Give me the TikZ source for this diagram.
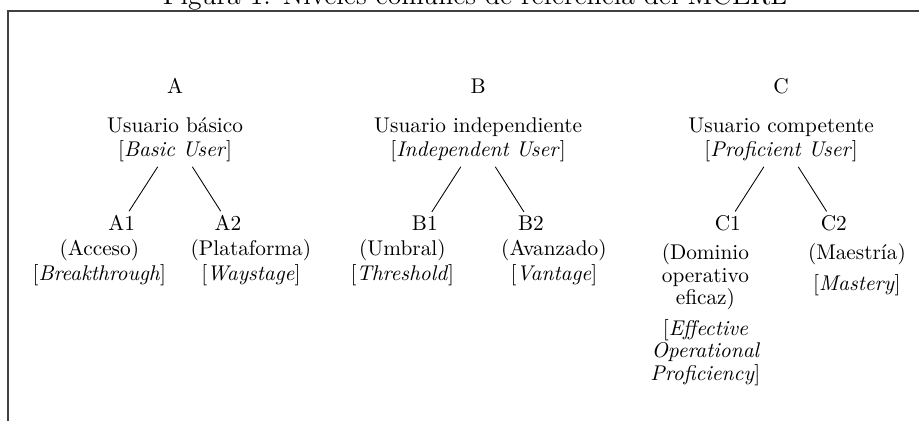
\documentclass[tikz,border=0pt]{standalone}
\usepackage{fontspec}
\begin{document}
\begin{tikzpicture}[
		grouplbl/.style={anchor=base, inner sep=0pt},
		usr/.style={anchor=base, align=center, inner sep=2pt, font=\fontsize{10}{11.5}\selectfont},
		lvl/.style={anchor=base, inner sep=1.5pt},
		desc/.style={anchor=base, align=center, inner sep=0pt, font=\fontsize{10}{11.5}\selectfont},
		descwide/.style={desc, text width=2.1cm, font=\fontsize{10}{10.5}\selectfont},
		boxline/.style={line width=0.8pt, black!75}
	]
		\useasboundingbox (0,0) rectangle (15.165,6.947);

		%caption and frame
		\node (title) at (7.84,6.865) [anchor=base, font=\fontsize{13}{15}\selectfont] {Figura 1: Niveles comunes de referencia del MCERL};
		\draw[boxline] (0.13,0) -- (0.13,6.77) -- (15.3,6.77);

		%A
		\node (lblA) at (2.89,5.40) [grouplbl] {A};
		\node (usrA) at (2.89,4.36) [usr] {Usuario básico\\{[}\textit{Basic User}{]}};
		\node (Aone) at (2.01,3.15) [lvl] {A1};
		\node (Atwo) at (3.76,3.15) [lvl] {A2};
		\draw (usrA) -- (Aone);
		\draw (usrA) -- (Atwo);
		\node (descAone) at (1.64,2.32) [desc] {(Acceso)\\{[}\textit{Breakthrough}{]}};
		\node (descAtwo) at (4.14,2.32) [desc] {(Plataforma)\\{[}\textit{Waystage}{]}};

		%B
		\node (lblB) at (7.89,5.40) [grouplbl] {B};
		\node (usrB) at (7.89,4.36) [usr] {Usuario independiente\\{[}\textit{Independent User}{]}};
		\node (Bone) at (7.01,3.15) [lvl] {B1};
		\node (Btwo) at (8.76,3.15) [lvl] {B2};
		\draw (usrB) -- (Bone);
		\draw (usrB) -- (Btwo);
		\node (descBone) at (6.64,2.32) [desc] {(Umbral)\\{[}\textit{Threshold}{]}};
		\node (descBtwo) at (9.14,2.32) [desc] {(Avanzado)\\{[}\textit{Vantage}{]}};

		%C
		\node (lblC) at (12.89,5.40) [grouplbl] {C};
		\node (usrC) at (12.89,4.36) [usr] {Usuario competente\\{[}\textit{Proficient User}{]}};
		\node (Cone) at (12.01,3.15) [lvl] {C1};
		\node (Ctwo) at (13.76,3.15) [lvl] {C2};
		\draw (usrC) -- (Cone);
		\draw (usrC) -- (Ctwo);
		\node (descCone) at (11.64,2.66) [descwide] {(Dominio operativo eficaz)\\[4pt]{[}\textit{Effective Operational Proficiency}{]}};
		\node (descCtwo) at (14.14,2.66) [descwide] {(Maestría)\\[4pt]{[}\textit{Mastery}{]}};

	\end{tikzpicture}
\end{document}
